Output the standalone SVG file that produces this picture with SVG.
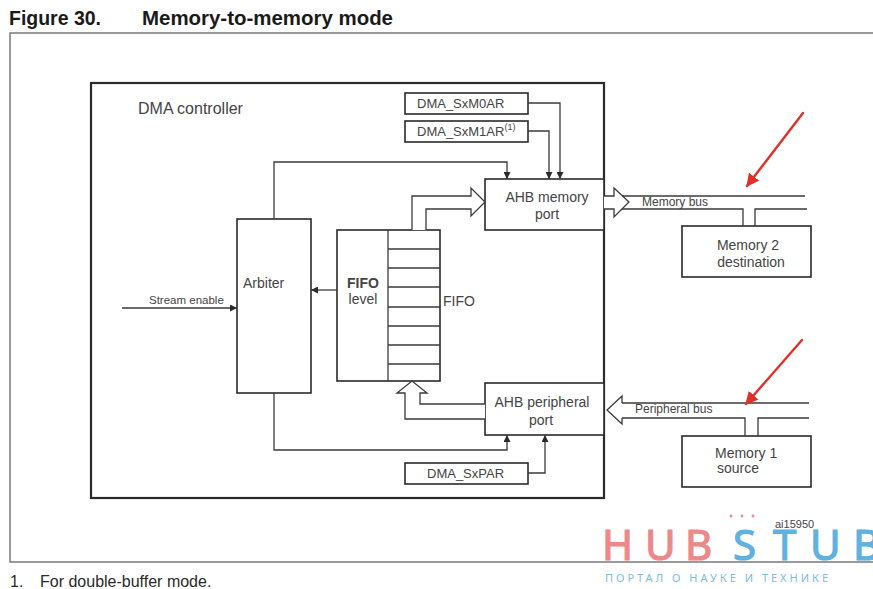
<svg xmlns="http://www.w3.org/2000/svg" width="873" height="589" viewBox="0 0 873 589">
  <defs>
    <style>
      .frame { fill: none; stroke: #7a7a7a; stroke-width: 1.5; }
      .ctrl { fill: none; stroke: #2a2a2a; stroke-width: 2.2; }
      .box { fill: #ffffff; stroke: #2a2a2a; stroke-width: 1.6; }
      .ln { fill: none; stroke: #3a3a3a; stroke-width: 1.3; }
      .hollow { fill: #ffffff; stroke: #3a3a3a; stroke-width: 1.3; stroke-linejoin: miter; }
      .t { font-family: "Liberation Sans", Arial, sans-serif; fill: #444444; }
      .c { text-anchor: middle; }
      .title { font-family: "Liberation Sans", Arial, sans-serif; font-weight: bold; font-size: 21px; fill: #1a1a1a; }
      .note { font-family: "Liberation Sans", Arial, sans-serif; font-size: 16px; fill: #2a2a2a; }
      .red { fill: none; stroke: #e0302a; stroke-width: 2.4; stroke-linecap: round; }
      .wm { font-family: "Noto Sans", "Open Sans", sans-serif; font-size: 42px; stroke-width: 1.2; }
    </style>
    <marker id="tip" viewBox="0 0 8 8" refX="8" refY="4" markerWidth="7" markerHeight="7" markerUnits="userSpaceOnUse" orient="auto">
      <path d="M0,0 L8,4 L0,8 z" fill="#2a2a2a"/>
    </marker>
    <marker id="redtip" viewBox="0 0 10 10" refX="9" refY="5" markerWidth="13" markerHeight="13" markerUnits="userSpaceOnUse" orient="auto">
      <path d="M0,0 L10,5 L0,10 z" fill="#e0302a"/>
    </marker>
  </defs>

  <rect width="873" height="589" fill="#ffffff"/>

  <!-- caption -->
  <text class="title" x="9" y="25" textLength="92" lengthAdjust="spacingAndGlyphs">Figure 30.</text>
  <text class="title" x="142" y="25" textLength="251" lengthAdjust="spacingAndGlyphs">Memory-to-memory mode</text>

  <!-- figure frame (open to the right) -->
  <path class="frame" d="M880,33 H10 V562 H880"/>

  <!-- DMA controller enclosure -->
  <g id="dma-controller">
    <rect class="ctrl" x="91" y="83" width="513" height="415"/>
    <text class="t" x="138" y="114" font-size="16">DMA controller</text>
  </g>

  <g id="reg-m0ar">
    <rect class="box" x="405" y="93" width="123" height="21"/>
    <text class="t" x="417" y="108" font-size="13">DMA_SxM0AR</text>
  </g>

  <g id="reg-m1ar">
    <rect class="box" x="405" y="121" width="123" height="21"/>
    <text class="t" x="417" y="136" font-size="13">DMA_SxM1AR<tspan font-size="9" dy="-6">(1)</tspan></text>
  </g>

  <g id="ahb-memory-port">
    <rect class="box" x="485" y="179" width="119" height="51"/>
    <text class="t c" x="547" y="202" font-size="14">AHB memory</text>
    <text class="t c" x="547" y="219" font-size="14">port</text>
  </g>

  <g id="arbiter">
    <rect class="box" x="237" y="219" width="74" height="174"/>
    <text class="t" x="243" y="288" font-size="14">Arbiter</text>
  </g>

  <g id="fifo">
    <rect class="box" x="337" y="230" width="103" height="151"/>
    <line class="ln" x1="388" y1="230" x2="388" y2="381" stroke-width="1.6"/>
    <path class="ln" d="M388,249 H440 M388,268 H440 M388,287 H440 M388,307 H440 M388,326 H440 M388,345 H440 M388,364 H440"/>
    <text class="t c" x="363" y="288" font-size="14" font-weight="bold">FIFO</text>
    <text class="t c" x="363" y="304" font-size="14">level</text>
    <text class="t" x="443" y="306" font-size="14">FIFO</text>
  </g>

  <g id="ahb-peripheral-port">
    <rect class="box" x="485" y="383" width="119" height="52"/>
    <text class="t c" x="542" y="407" font-size="14">AHB peripheral</text>
    <text class="t c" x="541" y="425" font-size="14">port</text>
  </g>

  <g id="reg-par">
    <rect class="box" x="405" y="463" width="123" height="21"/>
    <text class="t" x="427" y="478" font-size="13">DMA_SxPAR</text>
  </g>

  <g id="memory-2">
    <rect class="box" x="682" y="226" width="129" height="51"/>
    <text class="t c" x="748" y="250" font-size="14">Memory 2</text>
    <text class="t c" x="751" y="267" font-size="14">destination</text>
  </g>

  <g id="memory-1">
    <rect class="box" x="682" y="436" width="129" height="51"/>
    <text class="t" x="715" y="458" font-size="14">Memory 1</text>
    <text class="t" x="717" y="473" font-size="14">source</text>
  </g>

  <!-- connectors -->
  <g id="connectors">
    <path class="ln" d="M528,103 H560 V179" marker-end="url(#tip)"/>
    <path class="ln" d="M528,131 H549 V179" marker-end="url(#tip)"/>
    <path class="ln" d="M274,219 V162 H507 V179" marker-end="url(#tip)"/>
    <path class="ln" d="M122,308 H237" marker-end="url(#tip)"/>
    <text class="t" x="149" y="304" font-size="11.5">Stream enable</text>
    <path class="ln" d="M337,290 H311" marker-end="url(#tip)"/>
    <path class="ln" d="M274,393 V450 H507 V435" marker-end="url(#tip)"/>
    <path class="ln" d="M528,473 H545 V435" marker-end="url(#tip)"/>

    <!-- FIFO to memory port (wide data path) -->
    <path class="hollow" d="M412,230 V196 H471 V188 L485,202 L471,216 V209 H426 V230"/>
    <!-- peripheral port to FIFO (wide data path) -->
    <path class="hollow" d="M485,404 H420 V393 H427 L412,381 L397,393 H405 V419 H485"/>

    <!-- memory bus -->
    <path class="hollow" d="M604,196 H614 V188 L629,202 L614,217 V209 H604"/>
    <path class="ln" d="M622,196 H805"/>
    <path class="ln" d="M622,209 H743 V226 M755,226 V209 H807"/>
    <text class="t" x="642" y="206" font-size="12">Memory bus</text>

    <!-- peripheral bus -->
    <path class="hollow" d="M622,403 V396 L607,410 L622,424 V418"/>
    <path class="ln" d="M622,403 H809"/>
    <path class="ln" d="M622,418 H745 V436 M758,436 V418 H809"/>
    <text class="t" x="635" y="413" font-size="12">Peripheral bus</text>
  </g>

  <!-- red pointers -->
  <g id="pointers">
    <path class="red" d="M803,113 L747,186" marker-end="url(#redtip)"/>
    <path class="red" d="M802,340 L746,404" marker-end="url(#redtip)"/>
  </g>

  <!-- footnote -->
  <text class="note" x="10" y="587">1.</text>
  <text class="note" x="40" y="587">For double-buffer mode.</text>

  <!-- watermark -->
  <g id="watermark" opacity="0.9">
    <circle cx="731" cy="516" r="1.4" fill="#ec7c7e"/>
    <circle cx="742" cy="516" r="1.4" fill="#ec7c7e"/>
    <circle cx="753" cy="516" r="1.4" fill="#ec7c7e"/>
    <text class="wm" y="560" fill="#ec7c7e" stroke="#ec7c7e"><tspan x="602">H</tspan><tspan x="645">U</tspan><tspan x="685">B</tspan></text>
    <text class="wm" y="560" fill="#4ea9dc" stroke="#4ea9dc"><tspan x="733">S</tspan><tspan x="773">T</tspan><tspan x="810">U</tspan><tspan x="853">B</tspan></text>
    <text x="605" y="582" font-family="'Noto Sans', 'Open Sans', sans-serif" font-size="11" letter-spacing="3" fill="#6fb6e2">ПОРТАЛ О НАУКЕ И ТЕХНИКЕ</text>
  </g>

  <!-- drawing number, printed over the watermark -->
  <text class="t" x="775" y="528" font-size="11" fill="#333333">ai15950</text>
</svg>
